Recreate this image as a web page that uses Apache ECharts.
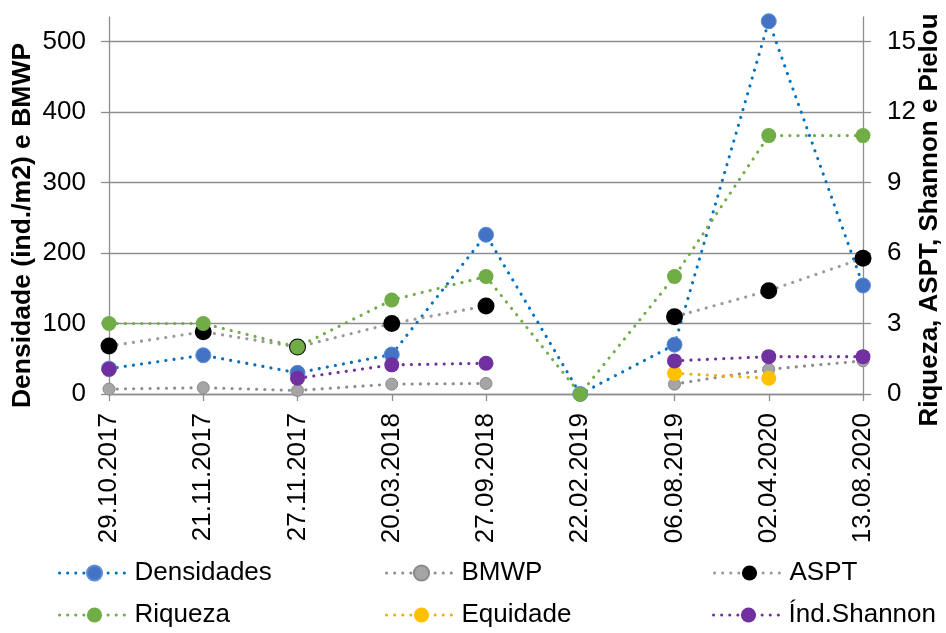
<!DOCTYPE html>
<html>
<head>
<meta charset="utf-8">
<script src="https://cdn.jsdelivr.net/npm/echarts@6/dist/echarts.min.js"></script>
<style>
  html, body { margin: 0; padding: 0; background: #fff; }
  #chart { width: 946px; height: 633px; }
</style>
</head>
<body>
<div id="chart"></div>
<script>
// Sampling dates
const dates = ['29.10.2017', '21.11.2017', '27.11.2017', '20.03.2018', '27.09.2018',
               '22.02.2019', '06.08.2019', '02.04.2020', '13.08.2020'];

// Left axis: density (ind./m2) and BMWP score
const densidades = [36, 55, 30, 56, 226, 0, 70, 529, 154];
const bmwp       = [7, 9, 5, 14, 15, null, 14, 35, 47];

// Right axis: richness, ASPT, Pielou evenness, Shannon index
const aspt      = [2.04, 2.65, 2.0, 3.0, 3.75, null, 3.29, 4.4, 5.78];
const riqueza   = [3, 3, 2, 4, 5, 0, 5, 11, 11];
const equidade  = [null, null, null, null, null, null, 0.88, 0.67, null];
const shannon   = [1.05, null, 0.67, 1.24, 1.31, null, 1.41, 1.59, 1.59];

// Axis tick values
const leftTicks  = [0, 100, 200, 300, 400, 500];
const rightTicks = [0, 3, 6, 9, 12, 15];
const leftMax = 535;
const rightMax = 16.05;

const FONT = "'Liberation Sans', Arial, sans-serif";
const GRID_GRAY = '#8e8e8e';
const DOT = [0.1, 8.1];

function dotted(color) {
  return { color: color, width: 3.1, type: DOT, cap: 'round' };
}

function lineSeries(name, data, yIdx, lineColor, fill, size, border) {
  return {
    name: name,
    type: 'line',
    yAxisIndex: yIdx,
    data: data,
    symbol: 'circle',
    symbolSize: size,
    showAllSymbol: true,
    connectNulls: false,
    lineStyle: dotted(lineColor),
    itemStyle: {
      color: fill,
      borderColor: border || fill,
      borderWidth: border ? 1 : 0
    },
    emphasis: { disabled: true }
  };
}

function yAxis(ticks, max, interval, position, name, gap, labelMargin, nameSize, namePadding) {
  return {
    type: 'value',
    position: position,
    min: 0,
    max: max,
    interval: interval,
    name: name,
    nameLocation: 'middle',
    nameRotate: 90,
    nameGap: gap,
    nameMoveOverlap: false,
    nameTextStyle: {
      fontFamily: FONT, fontSize: nameSize, fontWeight: 'bold', color: '#000',
      padding: namePadding
    },
    axisLine: { show: true, lineStyle: { color: GRID_GRAY, width: 1.3 } },
    axisTick: {
      show: true, inside: false, length: 8, customValues: ticks,
      lineStyle: { color: GRID_GRAY, width: 1.3 }
    },
    axisLabel: {
      customValues: ticks,
      fontFamily: FONT, fontSize: 26, color: '#000', margin: labelMargin
    },
    splitLine: {
      show: position === 'left',
      lineStyle: { color: GRID_GRAY, width: 1.3 }
    }
  };
}

function legendAt(name, left, top, lineColor) {
  return {
    data: [name],
    left: left,
    top: top,
    itemWidth: 70,
    itemHeight: 19,
    selectedMode: false,
    lineStyle: { color: lineColor, width: 3, type: [0.1, 8], cap: 'round' },
    textStyle: { fontFamily: FONT, fontSize: 26, color: '#000' }
  };
}

const chart = echarts.init(document.getElementById('chart'), null, { renderer: 'canvas' });

chart.setOption({
  animation: false,
  backgroundColor: '#fff',
  grid: { left: 109, right: 83, top: 17, bottom: 239, containLabel: false, outerBoundsMode: 'none' },
  legend: [
    legendAt('Densidades', 53, 555, '#0070C0'),
    legendAt('BMWP', 380, 555, '#8c8c8c'),
    legendAt('ASPT', 708, 555, '#9a9a9a'),
    legendAt('Riqueza', 53, 597, '#70AD47'),
    legendAt('Equidade', 380, 597, '#F0B000'),
    legendAt('Índ.Shannon', 707, 597, '#7030A0')
  ],
  xAxis: {
    type: 'category',
    data: dates,
    boundaryGap: false,
    axisLine: { show: true, lineStyle: { color: GRID_GRAY, width: 1.3 } },
    axisTick: { show: true, length: 7, lineStyle: { color: GRID_GRAY, width: 1.3 } },
    axisLabel: { rotate: 90, fontFamily: FONT, fontSize: 26, color: '#000', margin: 19, interval: 0 },
    splitLine: { show: false }
  },
  yAxis: [
    yAxis(leftTicks, leftMax, 100, 'left', 'Densidade (ind./m2) e BMWP', 73, 23, 26.5, [0, 40, 0, 0]),
    yAxis(rightTicks, rightMax, 3, 'right', 'Riqueza, ASPT, Shannon e Pielou', 54, 24, 26, [0, 29, 0, 0])
  ],
  series: [
    lineSeries('Densidades', densidades, 0, '#0070C0', '#4472C4', 15, '#5B8FD9'),
    lineSeries('BMWP', bmwp, 0, '#8c8c8c', '#A5A5A5', 12, '#8a8a8a'),
    lineSeries('ASPT', aspt, 1, '#9a9a9a', '#000000', 17),
    lineSeries('Riqueza', riqueza, 1, '#70AD47', '#70AD47', 15),
    lineSeries('Equidade', equidade, 1, '#F0B000', '#FFC000', 15),
    lineSeries('Índ.Shannon', shannon, 1, '#7030A0', '#7030A0', 15)
  ]
});
</script>
</body>
</html>
